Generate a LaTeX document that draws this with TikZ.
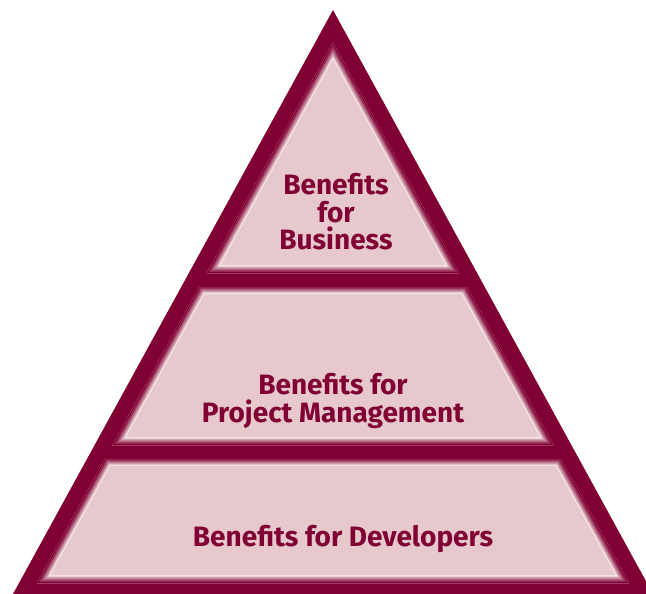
\documentclass[tikz,border=0pt]{standalone}
\usepackage{fontspec}
\setmainfont{Fira Sans}
\definecolor{maroon}{RGB}{128,0,52}
\definecolor{bandpink}{RGB}{230,200,205}
\definecolor{edgepink}{RGB}{243,226,229}
\tikzset{
  bandtext/.style={text=maroon, align=center, font=\bfseries\fontsize{28}{27.5}\selectfont, inner sep=0pt},
}

\begin{document}
\begin{tikzpicture}[x=1pt,y=-1pt]
		\newcommand\pyramidband[3]{ %% argument 1: name, argument 2: top y, argument 3: bottom y
			\path ({31+(594-#2)*0.548},#2) coordinate (#1-tl)
			      ({635-(594-#2)*0.548},#2) coordinate (#1-tr)
			      ({635-(594-#3)*0.548},#3) coordinate (#1-br)
			      ({31+(594-#3)*0.548},#3) coordinate (#1-bl);
			\begin{scope}
				\clip (#1-tl) -- (#1-tr) -- (#1-br) -- (#1-bl) -- cycle;
				\fill[bandpink] (#1-tl) -- (#1-tr) -- (#1-br) -- (#1-bl) -- cycle;
				\foreach \w/\c in {16/edgepink, 13/maroon!12!bandpink, 11/maroon!28!bandpink, 9/maroon!45!bandpink, 7/maroon!62!bandpink, 5/maroon!80!bandpink, 2/maroon}
					\draw[line width=\w pt, \c, line join=round] (#1-tl) -- (#1-tr) -- (#1-br) -- (#1-bl) -- cycle;
			\end{scope}
		}
	
		\useasboundingbox (0,0) rectangle (646,594);
		\clip (0,0) rectangle (646,594);
	
		\fill[maroon] (333,10) coordinate (apex) -- (653,594) -- (13,594) -- cycle;
	
		\pyramidband{top}{43}{273}
		\pyramidband{mid}{286}{445}
		\pyramidband{low}{458}{583}
		
		\node[bandtext] (business) at (336,212) {Benefits\\for\\Business};
		\node[bandtext] (management) at (333,401) {Benefits for\\Project Management};
		\node[bandtext] (developers) at (343,539) {Benefits for Developers};
	\end{tikzpicture}
\end{document}
